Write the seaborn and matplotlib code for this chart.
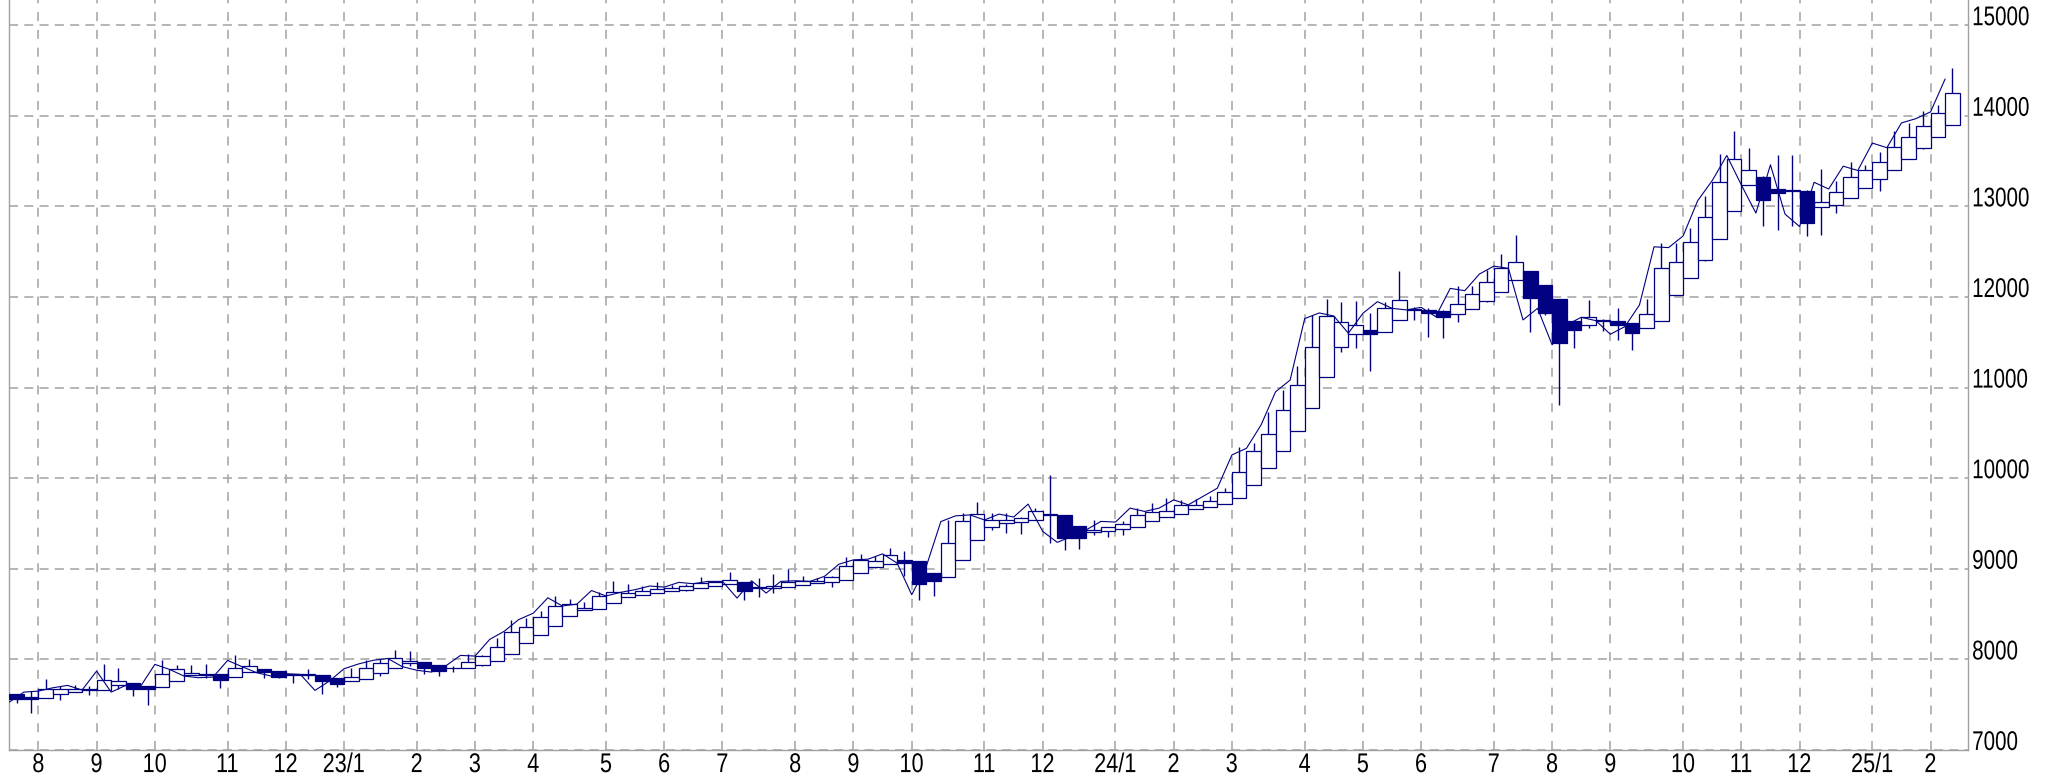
import matplotlib
matplotlib.use("Agg")
import matplotlib.pyplot as plt
from matplotlib.patheffects import AbstractPathEffect
from matplotlib.transforms import Affine2D
import numpy as np
import pandas as pd
import seaborn as sns

# Weekly Heikin-Ashi candles (Monday-based weeks) with the weekly close line
week_start = "2022-07-18"
n_weeks = 134

ha_close = [
    7558, 7558, 7669, 7669, 7676, 7662, 7772, 7761, 7676, 7676,
    7842, 7890, 7853, 7831, 7772, 7908, 7930, 7860, 7809, 7824,
    7832, 7761, 7731, 7805, 7908, 7956, 8018, 7982, 7901, 7872,
    7900, 7971, 8037, 8136, 8300, 8359, 8465, 8593, 8608, 8571,
    8696, 8747, 8736, 8751, 8777, 8788, 8805, 8842, 8857, 8872,
    8750, 8783, 8805, 8853, 8864, 8868, 8905, 9026, 9095, 9081,
    9147, 9062, 8831, 8861, 9283, 9532, 9609, 9539, 9541, 9560,
    9640, 9604, 9339, 9339, 9431, 9457, 9494, 9589, 9626, 9640,
    9706, 9706, 9743, 9843, 10068, 10301, 10488, 10752, 11028, 11450,
    11787, 11728, 11692, 11589, 11875, 11967, 11856, 11828, 11776, 11927,
    12033, 12161, 12316, 12385, 11985, 11828, 11497, 11637, 11783, 11739,
    11688, 11600, 11809, 12316, 12389, 12608, 12878, 13266, 13518, 13403,
    13074, 13144, 13174, 12815, 13048, 13155, 13329, 13407, 13488, 13655,
    13766, 13892, 14036, 14247,
]
ha_first_open = 7621

wick_high = [
    7621, 7650, 7779, 7706, 7713, 7706, 7945, 7908, 7739, 7708,
    7989, 7934, 7934, 7952, 7836, 8044, 8000, 7893, 7877, 7843,
    7890, 7833, 7797, 7908, 7990, 8000, 8099, 8092, 7971, 7936,
    7927, 8055, 8050, 8238, 8440, 8458, 8531, 8696, 8670, 8630,
    8740, 8868, 8831, 8806, 8850, 8824, 8830, 8915, 8870, 8963,
    8854, 8897, 8945, 9000, 8916, 8900, 8920, 9128, 9165, 9136,
    9235, 9198, 9081, 8956, 9540, 9613, 9741, 9613, 9620, 9571,
    9670, 10037, 9597, 9468, 9534, 9460, 9523, 9670, 9725, 9780,
    9761, 9769, 9806, 9890, 10349, 10385, 10734, 10973, 11237, 11798,
    11982, 11949, 11956, 11820, 11950, 12286, 11890, 11880, 11860, 12121,
    12121, 12297, 12473, 12683, 12286, 12135, 11982, 11739, 11967, 11760,
    11875, 11712, 11978, 12600, 12600, 12767, 13111, 13573, 13829, 13644,
    13340, 13562, 13562, 13181, 13418, 13277, 13492, 13455, 13603, 13833,
    13921, 14050, 14117, 14524,
]

wick_low = [
    7514, 7411, 7574, 7551, 7645, 7610, 7661, 7669, 7595, 7492,
    7692, 7767, 7829, 7800, 7687, 7804, 7856, 7798, 7800, 7742,
    7780, 7614, 7695, 7764, 7785, 7817, 7901, 7927, 7835, 7817,
    7864, 7900, 7930, 7987, 8061, 8180, 8270, 8367, 8480, 8544,
    8557, 8627, 8687, 8711, 8731, 8754, 8750, 8788, 8815, 8836,
    8659, 8688, 8732, 8799, 8826, 8845, 8798, 8881, 8954, 9007,
    9053, 8916, 8659, 8695, 8909, 9096, 9314, 9429, 9394, 9387,
    9540, 9284, 9211, 9218, 9376, 9350, 9376, 9466, 9527, 9577,
    9608, 9657, 9682, 9712, 9778, 9923, 10112, 10300, 10526, 10777,
    11113, 11398, 11435, 11178, 11615, 11745, 11747, 11563, 11552, 11728,
    11868, 11950, 12056, 12186, 11618, 11800, 10804, 11442, 11655, 11629,
    11527, 11416, 11656, 11732, 12024, 12206, 12398, 12638, 12952, 13235,
    12785, 12737, 12785, 12674, 12689, 12926, 13088, 13208, 13174, 13398,
    13526, 13630, 13769, 13903,
]

close = [
    7529, 7639, 7650, 7687, 7713, 7662, 7871, 7639, 7713, 7698,
    7945, 7890, 7816, 7798, 7805, 7989, 7919, 7853, 7816, 7842,
    7834, 7658, 7761, 7897, 7950, 7990, 8010, 7920, 7880, 7860,
    7930, 8044, 8037, 8220, 8310, 8440, 8510, 8680, 8590, 8610,
    8760, 8700, 8740, 8770, 8810, 8798, 8850, 8835, 8861, 8861,
    8677, 8868, 8732, 8861, 8868, 8861, 8916, 9051, 9099, 9106,
    9165, 9062, 8714, 9026, 9521, 9584, 9595, 9539, 9604, 9571,
    9714, 9413, 9292, 9358, 9431, 9523, 9516, 9670, 9633, 9670,
    9761, 9706, 9798, 9890, 10257, 10330, 10587, 10954, 11083, 11762,
    11824, 11790, 11600, 11820, 11949, 11875, 11857, 11886, 11783, 12095,
    12070, 12253, 12341, 12316, 11747, 11875, 11472, 11692, 11776, 11739,
    11589, 11673, 11912, 12554, 12545, 12674, 13063, 13285, 13562, 13237,
    12926, 13459, 12915, 12778, 13266, 13192, 13444, 13396, 13699, 13648,
    13921, 13969, 14043, 14406,
]

month_labels = [
    "8", "9", "10", "11", "12", "23/1", "2", "3", "4", "5", "6", "7",
    "8", "9", "10", "11", "12", "24/1", "2", "3", "4", "5", "6", "7",
    "8", "9", "10", "11", "12", "25/1", "2",
]
y_ticks = [7000, 8000, 9000, 10000, 11000, 12000, 13000, 14000, 15000]

NAVY = "#000080"
GRID = "#a9a9a9"


class Condensed(AbstractPathEffect):
    """Draws the text path narrowed horizontally around an anchor."""

    def __init__(self, sx, anchor="center"):
        super().__init__()
        self.sx = sx
        self.anchor = anchor

    def draw_path(self, renderer, gc, tpath, affine, rgbFace=None):
        xs = affine.transform(tpath.vertices)[:, 0] if len(tpath.vertices) else np.array([0.0])
        x0 = xs.min() if self.anchor == "left" else 0.5 * (xs.min() + xs.max())
        squeeze = affine + Affine2D().translate(-x0, 0).scale(self.sx, 1.0).translate(x0, 0)
        renderer.draw_path(gc, tpath, squeeze, rgbFace)


sns.set_theme(style="white")
plt.rcParams["lines.scale_dashes"] = False
plt.rcParams["font.family"] = ["Liberation Sans", "DejaVu Sans"]

weeks = pd.date_range(week_start, periods=n_weeks, freq="W-MON")
df = pd.DataFrame({
    "week": weeks,
    "idx": np.arange(n_weeks),
    "ha_close": ha_close,
    "high": wick_high,
    "low": wick_low,
    "close": close,
})

# Heikin-Ashi open: midpoint of the previous candle body
ha_open = [ha_first_open]
for i in range(1, n_weeks):
    ha_open.append((ha_open[i - 1] + ha_close[i - 1]) / 2.0)
df["ha_open"] = ha_open
df["top"] = df[["ha_open", "ha_close"]].max(axis=1)
df["bot"] = df[["ha_open", "ha_close"]].min(axis=1)
df["high"] = np.maximum(df["high"], df["top"])
df["low"] = np.minimum(df["low"], df["bot"])
df["up"] = df["ha_close"] >= df["ha_open"]

W, H, DPI = 2058, 779, 100
fig = plt.figure(figsize=(W / DPI, H / DPI), dpi=DPI)
left_px, right_px, bottom_px = 9.3, 1968.0, 750.0
ax = fig.add_axes([left_px / W, (H - bottom_px) / H, (right_px - left_px) / W, bottom_px / H])
ax.set_facecolor("white")

# wicks
ax.vlines(df["idx"] + 0.5, df["low"], df["high"], color=NAVY, linewidth=1.0, zorder=2)

# bodies
up = df[df["up"]]
dn = df[~df["up"]]
ax.bar(up["idx"], (up["top"] - up["bot"]).clip(lower=8), bottom=up["bot"], width=1.0,
       align="edge", facecolor="white", edgecolor=NAVY, linewidth=0.9, zorder=3)
ax.bar(dn["idx"], (dn["top"] - dn["bot"]).clip(lower=8), bottom=dn["bot"], width=1.0,
       align="edge", facecolor=NAVY, edgecolor=NAVY, linewidth=0.9, zorder=3)

# weekly close line
sns.lineplot(data=df, x="idx", y="close", ax=ax, color=NAVY, linewidth=0.8,
             estimator=None, sort=False, zorder=4)

# month ticks: the week that contains the 1st of each month
ends = df["week"] + pd.Timedelta(days=6)
has_first = (df["week"].dt.day == 1) | (ends.dt.month != df["week"].dt.month)
tick_pos = df.loc[has_first, "idx"].tolist()[:len(month_labels)]

ax.set_xlim(0, (right_px - left_px) / 14.555)
ax.set_ylim(7000, 7000 + bottom_px / 0.0906)
ax.set_xticks(tick_pos)
ax.set_xticklabels(month_labels)
ax.yaxis.tick_right()
ax.set_yticks(y_ticks)
ax.set_yticklabels([str(v) for v in y_ticks])
ax.set_xlabel("")
ax.set_ylabel("")
ax.tick_params(axis="both", length=0, colors="black")
ax.tick_params(axis="x", labelsize=19.5, pad=1.5)
ax.tick_params(axis="y", labelsize=19.5, pad=3)
for lab in ax.get_yticklabels():
    lab.set_verticalalignment("baseline")
    lab.set_path_effects([Condensed(0.76, anchor="left")])
for lab in ax.get_xticklabels():
    lab.set_path_effects([Condensed(0.8, anchor="center")])

ax.xaxis.grid(True, color=GRID, linewidth=1.2, linestyle=(0, (6.5, 6.3)), zorder=0)
ax.yaxis.grid(True, color=GRID, linewidth=1.2, linestyle=(0, (6.5, 4.5)), zorder=0)
ax.set_axisbelow(True)

for side in ("left", "bottom", "right"):
    ax.spines[side].set_visible(True)
    ax.spines[side].set_color("#a0a0a0")
    ax.spines[side].set_linewidth(1.0)
ax.spines["top"].set_visible(False)

fig.savefig("out.png", dpi=DPI, facecolor="white")
